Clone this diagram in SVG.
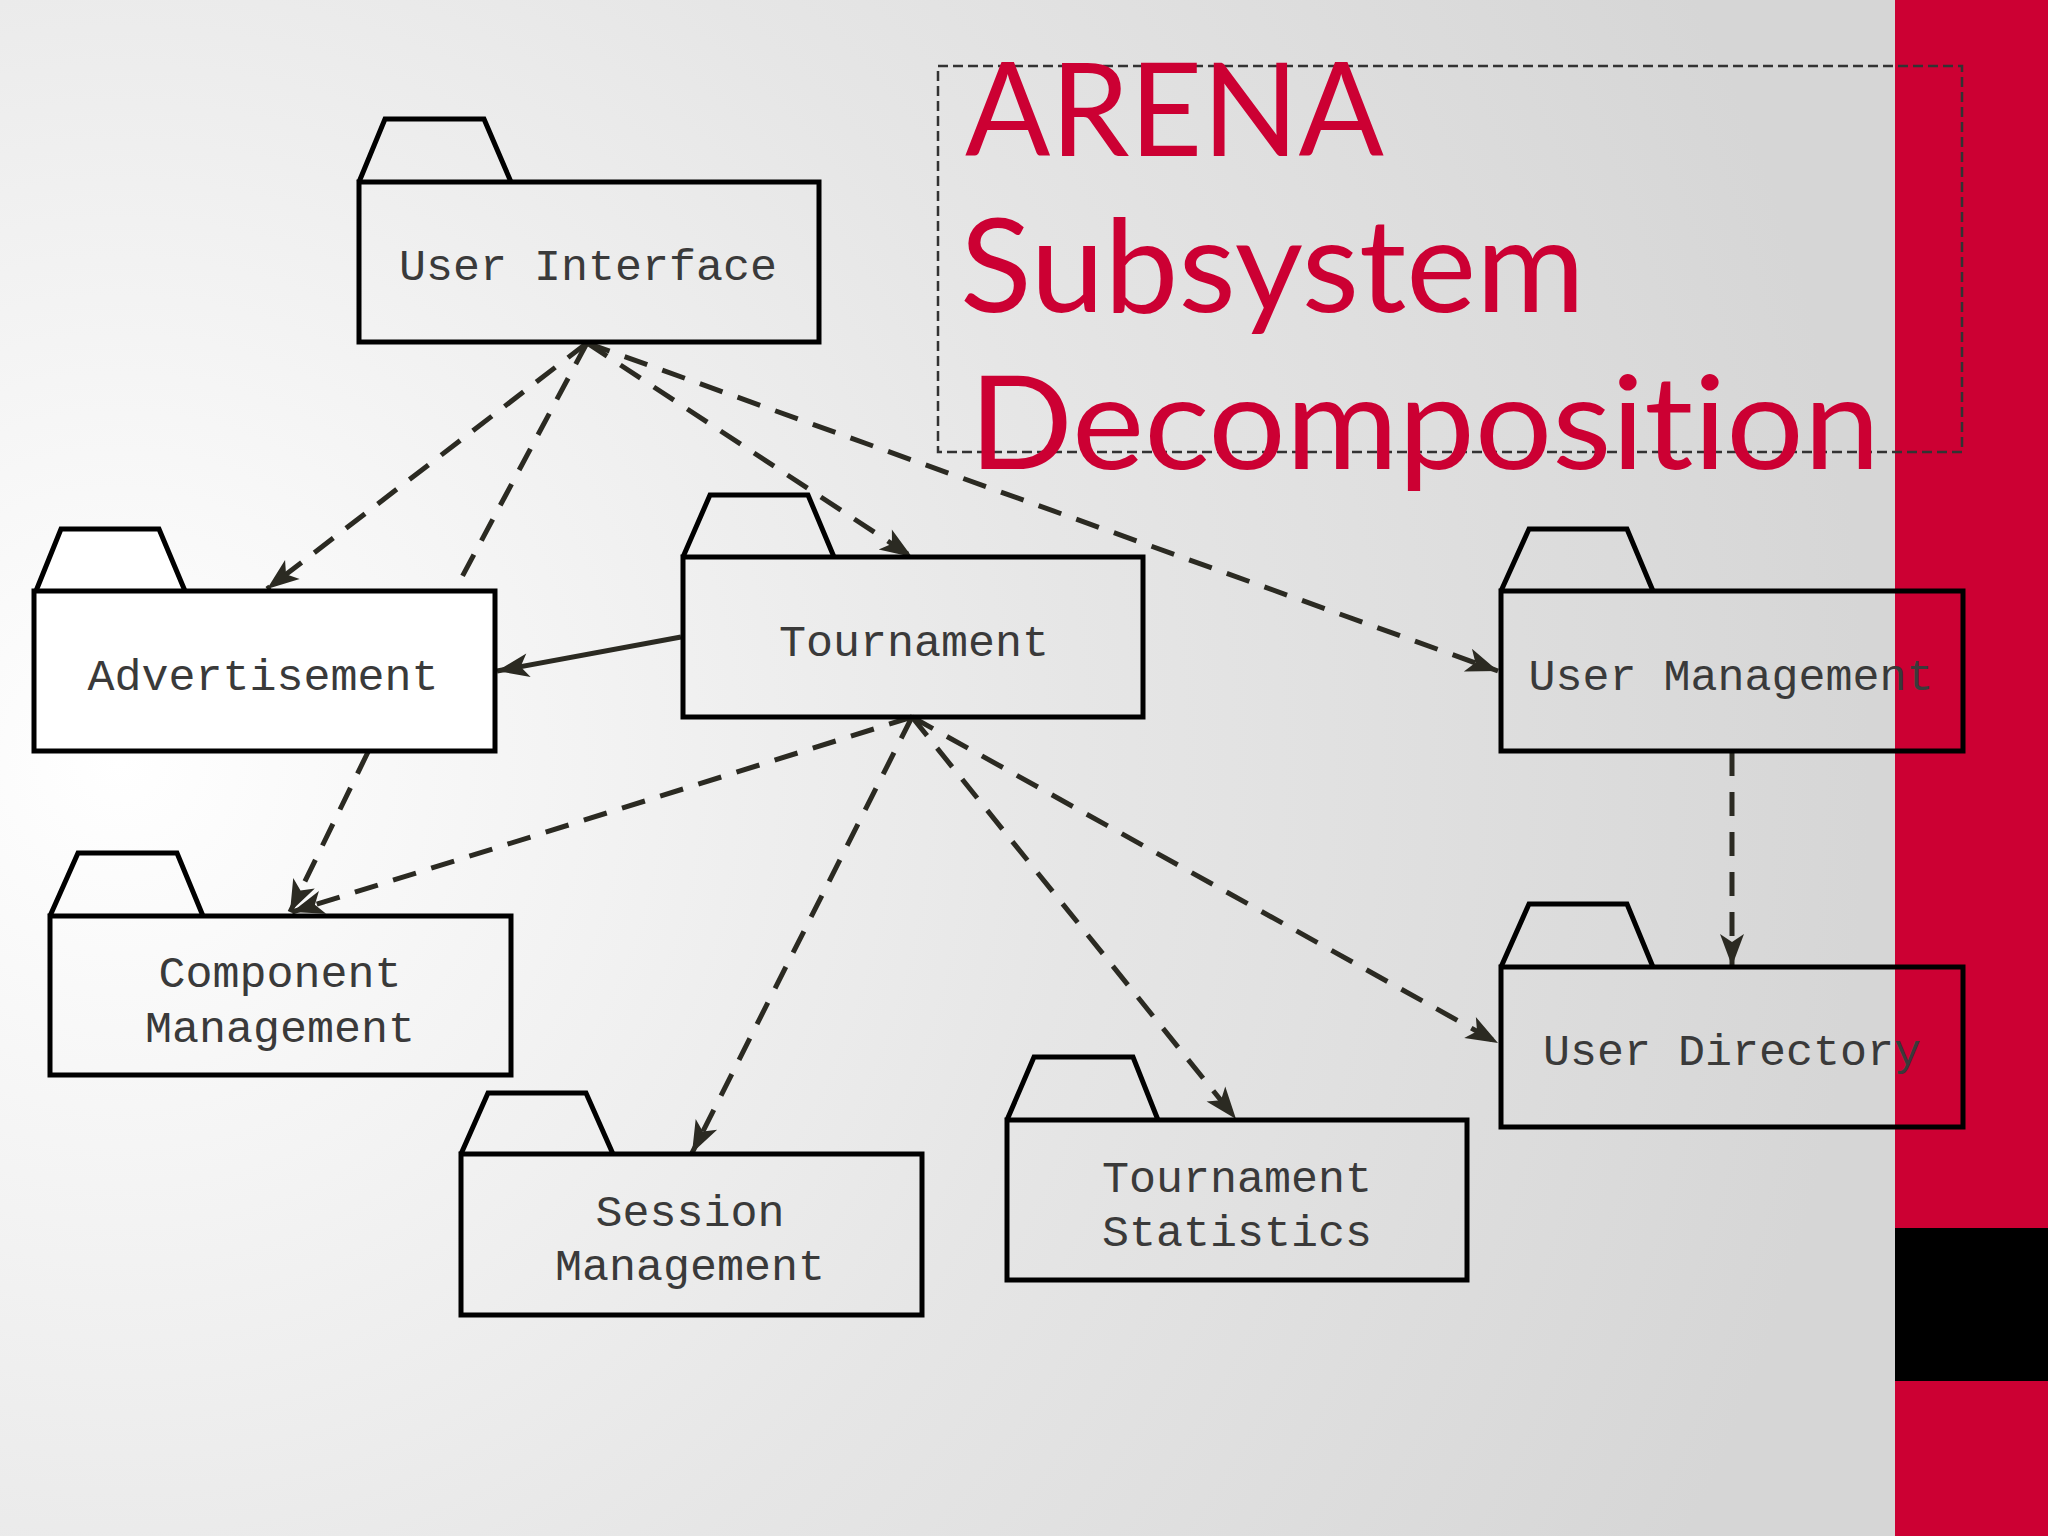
<svg xmlns="http://www.w3.org/2000/svg" width="2048" height="1536" viewBox="0 0 2048 1536">
<defs>
<radialGradient id="bg" cx="120" cy="760" r="1750" gradientUnits="userSpaceOnUse">
<stop offset="0" stop-color="#ffffff"/>
<stop offset="0.55" stop-color="#e6e6e6"/>
<stop offset="1" stop-color="#d6d6d6"/>
</radialGradient>
<marker id="arr" viewBox="-34 -14 36 28" refX="0" refY="0" markerWidth="36" markerHeight="28" markerUnits="userSpaceOnUse" orient="auto">
<path d="M0,0 L-32,-12 L-24,0 L-32,12 Z" fill="#2b2a22"/>
</marker>
<style>
.box{fill:none;stroke:#000;stroke-width:5}
.tab{fill:none;stroke:#000;stroke-width:5;stroke-linejoin:miter}
.lbl{font-family:"Liberation Mono","Courier New",monospace;font-size:45px;fill:#3a3a3a;text-anchor:middle}
.dep{fill:none;stroke:#2b2a22;stroke-width:5;stroke-dasharray:24 16}
.solid{fill:none;stroke:#2b2a22;stroke-width:5}
.title{font-family:Lato,"Liberation Sans",sans-serif;font-size:130px;fill:#cc0033;font-variant-ligatures:none;font-feature-settings:"liga" 0}
</style>
</defs>
<rect x="0" y="0" width="2048" height="1536" fill="url(#bg)"/>
<rect x="1895" y="0" width="153" height="1536" fill="#cc0033"/>
<rect x="1895" y="1228" width="153" height="153" fill="#000"/>
<g id="title">
<rect x="938" y="66" width="1024" height="386" fill="none" stroke="#333" stroke-width="2.5" stroke-dasharray="10 5"/>
<text class="title" x="965" y="156" textLength="419" lengthAdjust="spacingAndGlyphs">ARENA</text>
<text class="title" x="960" y="312" textLength="625" lengthAdjust="spacingAndGlyphs">Subsystem</text>
<text class="title" x="969" y="469" textLength="911" lengthAdjust="spacingAndGlyphs">Decomposition</text>
</g>
<g id="connectors">
<line class="dep" x1="587" y1="343" x2="267" y2="589" marker-end="url(#arr)"/>
<line class="dep" x1="587" y1="343" x2="455" y2="590"/>
<line class="dep" x1="587" y1="343" x2="912" y2="557" marker-end="url(#arr)"/>
<line class="dep" x1="587" y1="343" x2="1498" y2="671" marker-end="url(#arr)"/>
<line class="solid" x1="681" y1="637" x2="497" y2="671" marker-end="url(#arr)"/>
<line class="dep" x1="368" y1="752" x2="290" y2="912" marker-end="url(#arr)"/>
<line class="dep" x1="912" y1="717" x2="292" y2="912" marker-end="url(#arr)"/>
<line class="dep" x1="912" y1="717" x2="692" y2="1153" marker-end="url(#arr)"/>
<line class="dep" x1="912" y1="717" x2="1236" y2="1119" marker-end="url(#arr)"/>
<line class="dep" x1="912" y1="717" x2="1498" y2="1043" marker-end="url(#arr)"/>
<line class="dep" x1="1732" y1="752" x2="1732" y2="966" marker-end="url(#arr)"/>
</g>
<g id="user-interface">
<polyline class="tab" points="359,182 385,119 484,119 511,182"/>
<rect class="box" x="359" y="182" width="460" height="160"/>
<text class="lbl" x="588" y="280">User Interface</text>
</g>
<g id="advertisement">
<polygon points="36,591 61,529 159,529 185,591" fill="#fff"/>
<rect x="34" y="591" width="461" height="160" fill="#fff"/>
<polyline class="tab" points="36,591 61,529 159,529 185,591"/>
<rect class="box" x="34" y="591" width="461" height="160"/>
<text class="lbl" x="263" y="690">Advertisement</text>
</g>
<g id="tournament">
<polyline class="tab" points="683,557 710,495 808,495 834,557"/>
<rect class="box" x="683" y="557" width="460" height="160"/>
<text class="lbl" x="914" y="656">Tournament</text>
</g>
<g id="user-management">
<polyline class="tab" points="1501,591 1529,529 1627,529 1653,591"/>
<rect class="box" x="1501" y="591" width="462" height="160"/>
<text class="lbl" x="1731" y="690">User Management</text>
</g>
<g id="component-management">
<polyline class="tab" points="50,916 78,853 177,853 203,916"/>
<rect class="box" x="50" y="916" width="461" height="159"/>
<text class="lbl" x="280" y="987">Component</text>
<text class="lbl" x="280" y="1042">Management</text>
</g>
<g id="session-management">
<polyline class="tab" points="461,1154 488,1093 586,1093 613,1154"/>
<rect class="box" x="461" y="1154" width="461" height="161"/>
<text class="lbl" x="690" y="1226">Session</text>
<text class="lbl" x="690" y="1280">Management</text>
</g>
<g id="tournament-statistics">
<polyline class="tab" points="1007,1120 1034,1057 1133,1057 1158,1120"/>
<rect class="box" x="1007" y="1120" width="460" height="160"/>
<text class="lbl" x="1237" y="1192">Tournament</text>
<text class="lbl" x="1237" y="1246">Statistics</text>
</g>
<g id="user-directory">
<polyline class="tab" points="1501,967 1529,904 1627,904 1653,967"/>
<rect class="box" x="1501" y="967" width="462" height="160"/>
<text class="lbl" x="1732" y="1065">User Directory</text>
</g>
</svg>
